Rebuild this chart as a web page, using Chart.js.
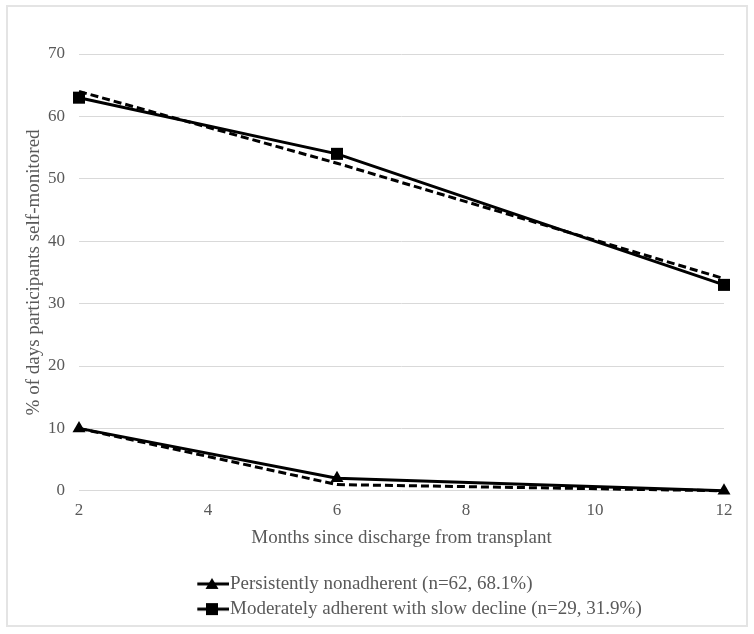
<!DOCTYPE html>
<html>
<head>
<meta charset="utf-8">
<script src="https://cdn.jsdelivr.net/npm/chart.js@4.4.0/dist/chart.umd.min.js"></script>
<style>
  body { margin: 0; background: #fff; }
  #wrap { position: relative; width: 754px; height: 634px; }
  #frame { position: absolute; left: 6px; top: 5px; width: 738px; height: 618px; border: 2px solid #e4e4e4; pointer-events: none; }
</style>
</head>
<body>
<div id="wrap">
  <canvas id="myChart" width="754" height="634"></canvas>
  <div id="frame"></div>
</div>
<script>
var months = [2, 6, 12];
var nonadherent = [10, 2, 0];
var nonadherentDashed = [10, 1, 0];
var moderate = [63, 54, 33];
var moderateDashed = [64, 52.5, 34];
var yTicks = [0, 10, 20, 30, 40, 50, 60, 70];
var labels = ['Persistently nonadherent (n=62, 68.1%)', 'Moderately adherent with slow decline (n=29, 31.9%)'];

var fontFamily = "'Liberation Serif', 'Times New Roman', serif";
var gray = '#595959';

function toPoints(values) {
    return months.map((m, i) => ({ x: m, y: values[i] }));
}

// little line + marker pictures for the legend, like excel
function legendIcon(kind) {
    let c = document.createElement('canvas');
    c.width = 34;
    c.height = 16;
    let g = c.getContext('2d');
    g.strokeStyle = '#000';
    g.lineWidth = 3;
    g.beginPath();
    g.moveTo(0, 8);
    g.lineTo(34, 8);
    g.stroke();
    g.fillStyle = '#000';
    g.beginPath();
    if (kind == 'triangle') {
        g.moveTo(17, 2);
        g.lineTo(23.5, 13);
        g.lineTo(10.5, 13);
        g.closePath();
    } else {
        g.rect(11, 2, 12, 12);
    }
    g.fill();
    return c;
}

var icons = [legendIcon('triangle'), legendIcon('rect')];

var legendShift = {
    id: 'legendShift',
    afterLayout(chart) {
        chart.legend.left = 197.3;
    }
};

var ctx = document.getElementById('myChart').getContext('2d');

window.myChart = new Chart(ctx, {
    type: 'line',
    data: {
        datasets: [{
            label: labels[0],
            data: toPoints(nonadherent),
            borderColor: '#000',
            backgroundColor: '#000',
            borderWidth: 3,
            pointStyle: 'triangle',
            pointRadius: 7.5,
            pointBorderWidth: 0,
            clip: false
        }, {
            label: labels[1],
            data: toPoints(moderate),
            borderColor: '#000',
            backgroundColor: '#000',
            borderWidth: 3,
            pointStyle: 'rect',
            pointRadius: 8.5,
            pointBorderWidth: 0,
            clip: false
        }, {
            label: 'dashed1',
            data: toPoints(nonadherentDashed),
            borderColor: '#000',
            borderWidth: 3,
            borderDash: [8, 4],
            pointRadius: 0,
            clip: false
        }, {
            label: 'dashed2',
            data: toPoints(moderateDashed),
            borderColor: '#000',
            borderWidth: 3,
            borderDash: [8, 4],
            pointRadius: 0,
            clip: false
        }]
    },
    options: {
        responsive: false,
        animation: false,
        layout: {
            padding: { left: 0, right: 30, top: 54, bottom: 5.4 }
        },
        scales: {
            x: {
                type: 'linear',
                position: 'bottom',
                min: 2,
                max: 12,
                afterFit(scale) { scale.height = 77.4; },
                ticks: { stepSize: 2, padding: 9.5, color: gray, font: { family: fontFamily, size: 17 } },
                grid: { display: false, drawTicks: false },
                border: { display: false },
                title: {
                    display: true,
                    text: 'Months since discharge from transplant',
                    color: gray,
                    font: { family: fontFamily, size: 19 },
                    padding: { top: 0, bottom: 19 }
                }
            },
            y: {
                type: 'linear',
                position: 'left',
                min: 0,
                max: 70,
                afterFit(scale) { scale.width = 79; },
                afterBuildTicks(scale) { scale.ticks = yTicks.map(v => ({ value: v })); },
                ticks: { padding: 14, color: gray, font: { family: fontFamily, size: 17 } },
                grid: { color: '#d9d9d9', lineWidth: 1, drawTicks: false },
                border: { display: false },
                title: {
                    display: true,
                    text: '% of days participants self-monitored',
                    color: gray,
                    font: { family: fontFamily, size: 19 },
                    padding: { top: 23, bottom: 0 }
                }
            }
        },
        plugins: {
            legend: {
                position: 'bottom',
                align: 'start',
                labels: {
                    usePointStyle: true,
                    pointStyleWidth: 17,
                    padding: 6.2,
                    color: gray,
                    font: { family: fontFamily, size: 19 },
                    filter: (item) => item.datasetIndex < 2,
                    generateLabels(chart) {
                        let items = Chart.defaults.plugins.legend.labels.generateLabels(chart);
                        items.forEach(it => { if (it.datasetIndex < 2) it.pointStyle = icons[it.datasetIndex]; });
                        return items;
                    }
                }
            },
            tooltip: { enabled: false }
        }
    },
    plugins: [legendShift]
});
</script>
</body>
</html>
